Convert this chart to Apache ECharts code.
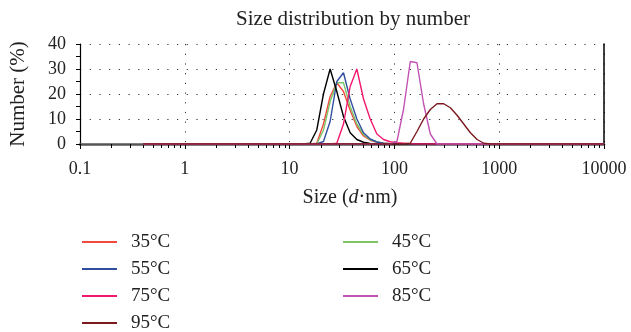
<!DOCTYPE html>
<html>
<head>
<meta charset="utf-8">
<script src="https://cdn.jsdelivr.net/npm/echarts@6/dist/echarts.min.js"></script>
<style>html,body{margin:0;padding:0;background:#fff}#c{width:631px;height:332px}</style>
</head>
<body>
<div id="c"></div>
<script>
// Size classes (nm), read as Malvern-style log bins
var sizes = [0.4, 13.54, 15.69, 18.17, 21.04, 24.36, 28.21, 32.67, 37.84, 43.82, 50.75, 58.77, 68.06, 78.82, 91.28, 105.7, 122.4, 141.8, 164.2, 190.1, 220.2, 255.0, 295.3, 342.0, 396.1, 458.7, 531.2, 615.1, 712.4, 825.0, 955.4, 10000];
var seriesNames = ['35°C', '45°C', '55°C', '65°C', '75°C', '85°C', '95°C'];
var v35 = [0, 0, 0, 0.3, 8, 19, 24.5, 21, 13.5, 7, 3.2, 1.5, 0.7, 0.3, 0.1, 0, 0, 0, 0, 0, 0, 0, 0, 0, 0, 0, 0, 0, 0, 0, 0, 0];
var v45 = [0, 0, 0, 0, 5.5, 17, 24.5, 24.5, 15, 8, 3.8, 1.7, 0.8, 0.3, 0.1, 0, 0, 0, 0, 0, 0, 0, 0, 0, 0, 0, 0, 0, 0, 0, 0, 0];
var v55 = [0, 0, 0, 0, 1, 9, 25, 28.5, 18, 10, 4.5, 2, 0.8, 0.3, 0.1, 0, 0, 0, 0, 0, 0, 0, 0, 0, 0, 0, 0, 0, 0, 0, 0, 0];
var v65 = [0, 0, 0.3, 5.6, 20, 30, 21, 11, 4.5, 1.8, 0.7, 0.2, 0, 0, 0, 0, 0, 0, 0, 0, 0, 0, 0, 0, 0, 0, 0, 0, 0, 0, 0, 0];
var v75 = [0, 0, 0, 0, 0, 0, 0.3, 8, 23, 30, 18, 10, 4, 1.8, 0.9, 0.5, 0.3, 0.1, 0, 0, 0, 0, 0, 0, 0, 0, 0, 0, 0, 0, 0, 0];
var v85 = [0, 0, 0, 0, 0, 0, 0, 0, 0, 0, 0, 0, 0, 0, 0, 1, 14, 33, 32.5, 16, 4, 0, 0, 0, 0, 0, 0, 0, 0, 0, 0, 0];
var v95 = [0, 0, 0, 0, 0, 0, 0, 0, 0, 0, 0, 0, 0, 0, 0, 0, 0, 0.3, 5, 10, 13.8, 16.1, 16.1, 14.5, 11.5, 8, 4.5, 1.8, 0.3, 0, 0, 0];
var seriesValues = [v35, v45, v55, v65, v75, v85, v95];
var colors = ['#f04a3e', '#7cc668', '#2f4f9e', '#000000', '#f2186e', '#c253b4', '#7a1a1e'];
var xTicks = [0.1, 1, 10, 100, 1000, 10000];
var yTicks = [0, 10, 20, 30, 40];

var FONT = 'Liberation Serif';
var chart = echarts.init(document.getElementById('c'), null, {renderer: 'canvas'});

var series = seriesNames.map(function (name, k) {
  return {
    name: name,
    type: 'line',
    xAxisIndex: 0,
    yAxisIndex: 0,
    showSymbol: false,
    symbol: 'none',
    lineStyle: {width: 1.4, color: colors[k]},
    itemStyle: {color: colors[k]},
    z: 3 + k,
    data: sizes.map(function (s, i) { return [s, seriesValues[k][i]]; })
  };
});

var dotted = {color: '#333', width: 1, type: [1.2, 8.5]};
var legendText = {fontFamily: FONT, fontSize: 19, color: '#222', lineHeight: 20, padding: [0, 0, 0, 9]};

chart.setOption({
  animation: false,
  color: colors,
  title: {
    text: 'Size distribution by number',
    left: 348, top: 4, textAlign: 'center',
    textStyle: {fontFamily: FONT, fontSize: 21, fontWeight: 'normal', color: '#222'}
  },
  grid: {left: 80, right: 27, top: 44, bottom: 188, containLabel: false},
  legend: [
    {
      data: ['35°C', '55°C', '75°C', '95°C'],
      orient: 'vertical', left: 82, top: 232, height: 130, padding: 0,
      icon: 'rect', itemWidth: 35, itemHeight: 2, itemGap: 7,
      textStyle: legendText
    },
    {
      data: ['45°C', '65°C', '85°C'],
      orient: 'vertical', left: 343, top: 232, height: 130, padding: 0,
      icon: 'rect', itemWidth: 35, itemHeight: 2, itemGap: 7,
      textStyle: legendText
    }
  ],
  xAxis: [
    {
      type: 'log', logBase: 10, min: xTicks[0], max: xTicks[xTicks.length - 1],
      position: 'bottom',
      name: '{a|Size (}{i|d}{a|·nm)}',
      nameLocation: 'middle', nameGap: 44,
      nameTextStyle: {
        padding: [0, 0, 0, 16],
        rich: {
          a: {fontFamily: FONT, fontSize: 20, color: '#222'},
          i: {fontFamily: FONT, fontSize: 20, color: '#222', fontStyle: 'italic'}
        }
      },
      axisLine: {show: true, lineStyle: {color: '#000', width: 1.2}},
      axisTick: {show: true, inside: false, length: 5, lineStyle: {color: '#000'}},
      minorTick: {show: true, splitNumber: 9, length: 4, lineStyle: {color: '#000'}},
      axisLabel: {
        margin: 16, fontFamily: FONT, fontSize: 18, color: '#222',
        formatter: function (v) { return String(v); }
      },
      splitLine: {show: true, lineStyle: dotted}
    },
    {
      type: 'log', logBase: 10, min: xTicks[0], max: xTicks[xTicks.length - 1],
      position: 'top',
      axisLine: {show: true, lineStyle: {color: '#555', width: 2.5}},
      axisTick: {show: false}, axisLabel: {show: false}, splitLine: {show: false}
    }
  ],
  yAxis: [
    {
      type: 'value', min: yTicks[0], max: yTicks[yTicks.length - 1], interval: 10,
      name: 'Number (%)', nameLocation: 'middle', nameGap: 51, nameRotate: 90,
      nameTextStyle: {fontFamily: FONT, fontSize: 21, color: '#222'},
      axisLine: {show: true, lineStyle: {color: '#000', width: 1.2}},
      axisTick: {show: true, inside: false, length: 4, lineStyle: {color: '#000'}},
      minorTick: {show: true, splitNumber: 2, length: 4, lineStyle: {color: '#000'}},
      axisLabel: {margin: 14, fontFamily: FONT, fontSize: 18, color: '#222'},
      splitLine: {show: true, lineStyle: dotted}
    },
    {
      type: 'value', min: 0, max: 40, position: 'right',
      axisLine: {show: true, lineStyle: {color: '#000', width: 1.5}},
      axisTick: {show: false}, axisLabel: {show: false}, splitLine: {show: false}
    }
  ],
  series: series
});
</script>
</body>
</html>
